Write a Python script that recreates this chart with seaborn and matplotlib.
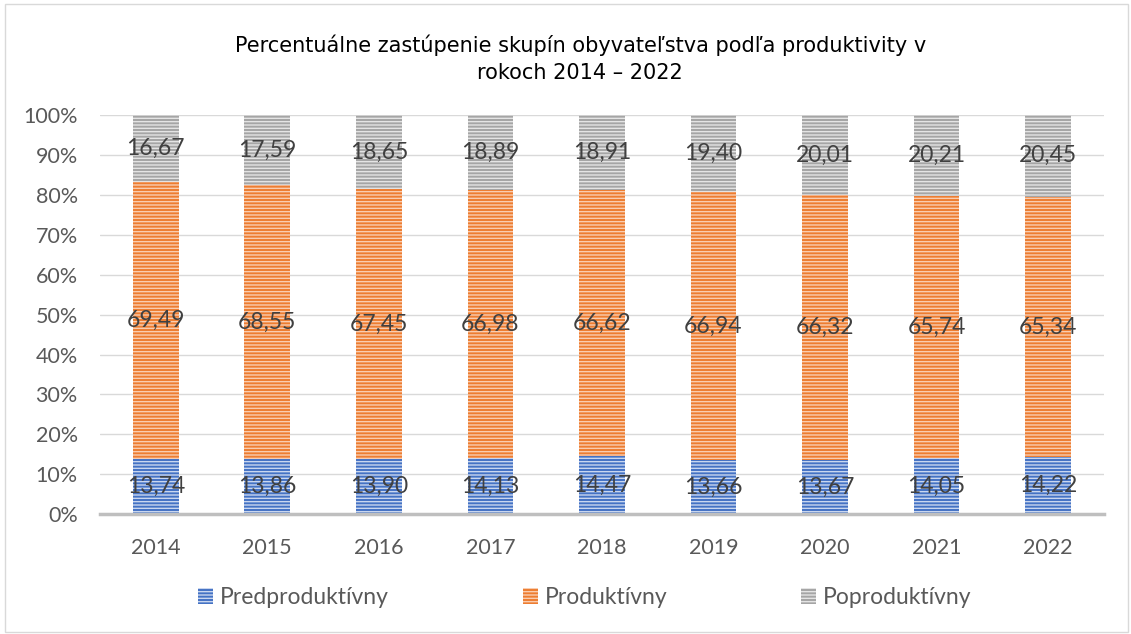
import matplotlib
matplotlib.use('Agg')
import matplotlib.pyplot as plt
from matplotlib.patches import Patch, Rectangle
from matplotlib.ticker import PercentFormatter
import seaborn as sns
import pandas as pd
import numpy as np

years = ['2014', '2015', '2016', '2017', '2018', '2019', '2020', '2021', '2022']
predproduktivny = [13.74, 13.86, 13.90, 14.13, 14.47, 13.66, 13.67, 14.05, 14.22]
produktivny = [69.49, 68.55, 67.45, 66.98, 66.62, 66.94, 66.32, 65.74, 65.34]
poproduktivny = [16.67, 17.59, 18.65, 18.89, 18.91, 19.40, 20.01, 20.21, 20.45]

series_names = ['Predproduktívny', 'Produktívny', 'Poproduktívny']
colors = ['#4472C4', '#ED7D31', '#A5A5A5']
stripes = ['#C9D6EF', '#F9CDB0', '#E4E4E4']

sns.set_style('white')
plt.rcParams['font.family'] = ['Lato', 'DejaVu Sans']
plt.rcParams['hatch.linewidth'] = 1.0

df = pd.DataFrame({'rok': years, 'pred': predproduktivny,
                   'prod': produktivny, 'post': poproduktivny})
total = df['pred'] + df['prod'] + df['post']
# 100% stacked -> share of each row
df['c1'] = df['pred'] / total * 100
df['c2'] = (df['pred'] + df['prod']) / total * 100
df['c3'] = 100.0

fig = plt.figure(figsize=(11.31, 6.34), dpi=100)
ax = fig.add_axes([0.0884, 0.189, 0.8876, 0.6296])

# draw tallest first so the lower segments cover it
for col, c, s in [('c3', colors[2], stripes[2]), ('c2', colors[1], stripes[1]), ('c1', colors[0], stripes[0])]:
    sns.barplot(data=df, x='rok', y=col, color=c, width=0.41, ax=ax, zorder=2)
    for p in ax.patches[-len(years):]:
        p.set_facecolor(c)
        p.set_edgecolor(s)
        p.set_linewidth(0)
        p.set_hatch('-----')

# data labels centered in each segment
lows = [np.zeros(len(years)), df['c1'].values, df['c2'].values]
highs = [df['c1'].values, df['c2'].values, df['c3'].values]
vals = [predproduktivny, produktivny, poproduktivny]
for lo, hi, v in zip(lows, highs, vals):
    for i in range(len(years)):
        ax.text(i, (lo[i] + hi[i]) / 2, f'{v[i]:.2f}'.replace('.', ','),
                ha='center', va='center', fontsize=16.5, color='#404040', zorder=5)

ax.set_ylim(0, 100)
ax.set_xlim(-0.5, len(years) - 0.5)
ax.set_yticks(range(0, 101, 10))
ax.yaxis.set_major_formatter(PercentFormatter(decimals=0))
ax.set_xlabel('')
ax.set_ylabel('')
ax.grid(axis='y', color='#D9D9D9', linewidth=1, zorder=0)
ax.set_axisbelow(True)
for sp in ['top', 'right', 'left']:
    ax.spines[sp].set_visible(False)
ax.spines['bottom'].set_color('#BFBFBF')
ax.spines['bottom'].set_linewidth(2.5)
ax.spines['bottom'].set_zorder(6)
ax.tick_params(axis='both', length=0, labelsize=15.5, labelcolor='#595959')
ax.tick_params(axis='y', pad=16)
ax.tick_params(axis='x', pad=17)

fig.text(0.513, 0.907, 'Percentuálne zastúpenie skupín obyvateľstva podľa produktivity v\nrokoch 2014 – 2022',
         ha='center', va='center', fontsize=15, color='#000000', linespacing=1.45,
         family=['DejaVu Sans'])

handles = [Patch(facecolor=c, edgecolor=s, linewidth=0, hatch='-----') for c, s in zip(colors, stripes)]
fig.legend(handles, series_names, loc='center', bbox_to_anchor=(0.517, 0.058), ncol=3,
           frameon=False, fontsize=16.5, labelcolor='#595959', columnspacing=5.85,
           handlelength=0.65, handleheight=0.7, handletextpad=0.3)

fig.patches.append(Rectangle((0.004, 0.003), 0.993, 0.991, transform=fig.transFigure,
                             fill=False, edgecolor='#D9D9D9', linewidth=1))

fig.savefig('out.png', dpi=100)
